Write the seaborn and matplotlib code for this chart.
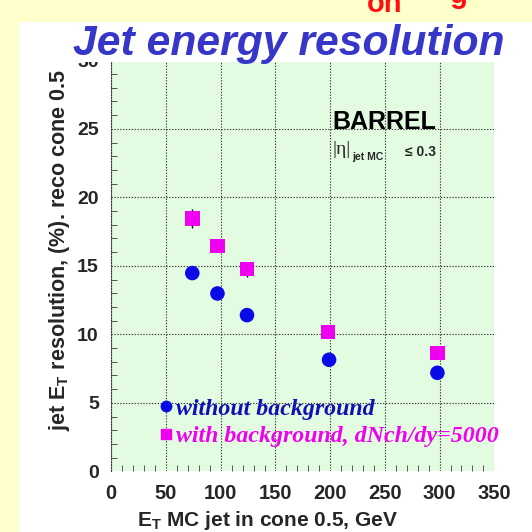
import numpy as np
import pandas as pd
import seaborn as sns
import matplotlib
matplotlib.use("Agg")
import matplotlib.pyplot as plt
from matplotlib.patches import Rectangle
from matplotlib.lines import Line2D
from matplotlib.ticker import MultipleLocator

# Jet transverse-energy bins (GeV) and resolutions (%)
et_no_bkg = [74, 97, 124, 199, 298]
res_no_bkg = [14.47, 12.98, 11.40, 8.14, 7.19]
err_no_bkg = [0.30, 0.30, 0.30, 0.25, 0.25]

et_bkg = [74, 97, 124, 198, 298]
res_bkg = [18.44, 16.46, 14.76, 10.17, 8.65]
err_bkg = [0.70, 0.35, 0.55, 0.30, 0.30]

label_no_bkg = "without background"
label_bkg = "with background, dNch/dy=5000"

x_ticks = [0, 50, 100, 150, 200, 250, 300, 350]
y_ticks = [0, 5, 10, 15, 20, 25, 30]

sns.set_style("white")
plt.rcParams["font.family"] = ["Liberation Sans", "DejaVu Sans"]
plt.rcParams["mathtext.fontset"] = "custom"
plt.rcParams["mathtext.rm"] = "Liberation Sans"
plt.rcParams["mathtext.bf"] = "Liberation Sans:bold"
plt.rcParams["mathtext.it"] = "Liberation Sans:italic"

df = pd.DataFrame({
    "et": et_no_bkg + et_bkg,
    "res": res_no_bkg + res_bkg,
    "err": err_no_bkg + err_bkg,
    "series": [label_no_bkg] * len(et_no_bkg) + [label_bkg] * len(et_bkg),
})

BLUE = "#0A0AE6"
MAGENTA = "#F000F0"
palette = {label_no_bkg: BLUE, label_bkg: MAGENTA}
markers = {label_no_bkg: "o", label_bkg: "s"}

W = H = 532
fig = plt.figure(figsize=(W / 100, H / 100), dpi=100, facecolor="white")

# slide frame: pale yellow margins on the left and top
fig.add_artist(Rectangle((0, 0), 19 / W, 1, transform=fig.transFigure,
                         facecolor="#FFFFCC", edgecolor="none", zorder=0))
fig.add_artist(Rectangle((0, 1 - 22 / H), 1, 22 / H, transform=fig.transFigure,
                         facecolor="#FFFFCC", edgecolor="none", zorder=0))

ax = fig.add_axes([111.3 / W, 1 - 471.3 / H, 383 / W, 411 / H])
ax.set_facecolor("#E3FBE0")

# error bars drawn first so the markers sit on top
for name, grp in df.groupby("series"):
    ax.errorbar(grp["et"], grp["res"], yerr=grp["err"], fmt="none",
                ecolor="black", elinewidth=1.0, capsize=0, zorder=3)

sns.scatterplot(data=df, x="et", y="res", hue="series", style="series",
                palette=palette, markers=markers, s=110, linewidth=0,
                legend=False, ax=ax, zorder=4)

ax.set_xlim(0, 350)
ax.set_ylim(0, 30)
ax.set_xticks(x_ticks)
ax.set_yticks(y_ticks)
ax.xaxis.set_minor_locator(MultipleLocator(10))
ax.yaxis.set_minor_locator(MultipleLocator(1))
ax.set_xticklabels([str(v) for v in x_ticks])
ax.set_yticklabels([str(v) for v in y_ticks])

ax.tick_params(axis="x", which="major", direction="in", length=0, pad=9,
               labelsize=14.5, bottom=True)
ax.tick_params(axis="x", which="minor", direction="in", length=4, width=0.7,
               color="#555555", bottom=True)
ax.tick_params(axis="y", which="major", direction="in", length=0, pad=9,
               labelsize=14, left=True)
ax.tick_params(axis="y", which="minor", direction="in", length=4, width=0.7,
               color="#555555", left=True)
for lab in ax.get_xticklabels() + ax.get_yticklabels():
    lab.set_fontweight("bold")

ax.grid(True, which="major", color="#3A3A3A", linestyle=(0, (1.2, 1.4)),
        linewidth=0.8)
ax.yaxis.get_major_ticks()[0].gridline.set_visible(False)
for side in ("top", "right", "bottom"):
    ax.spines[side].set_visible(False)
ax.spines["left"].set_linestyle((0, (1.2, 1.4)))
ax.spines["left"].set_color("#3A3A3A")
ax.spines["left"].set_linewidth(0.8)

ax.set_xlabel("")
ax.set_ylabel("")

# legend
handles = [
    Line2D([], [], marker="o", linestyle="none", color=BLUE, markersize=7.5),
    Line2D([], [], marker="s", linestyle="none", color=MAGENTA, markersize=7.5),
]
leg = ax.legend(handles, [label_no_bkg, label_bkg], loc="upper left",
                bbox_to_anchor=(49 / 383, (471.3 - 398) / 411),
                frameon=False, handlelength=0.45, handletextpad=0.2,
                labelspacing=0.25, borderpad=0, borderaxespad=0,
                prop={"family": "Liberation Serif", "weight": "bold",
                      "style": "italic", "size": 17.2})
for txt, col in zip(leg.get_texts(), ["#1010B4", MAGENTA]):
    txt.set_color(col)

# region annotation
fig.text(332 / W, 1 - 129.3 / H, "BARREL", fontsize=18, fontweight="bold",
         va="baseline", ha="left", color="black")
fig.text(332 / W, 1 - 154 / H, "|\u03b7|", fontsize=14,
         family="Liberation Serif", va="baseline", ha="left")
fig.text(352 / W, 1 - 160 / H, "jet MC", fontsize=7.5, fontweight="bold",
         va="baseline", ha="left")
fig.text(405 / W, 1 - 155.7 / H, "\u2264 0.3", fontsize=10, fontweight="bold",
         va="baseline", ha="left", family=["Liberation Sans", "DejaVu Sans"])

# axis titles
fig.text(60 / W, 1 - 250 / H, r"jet E$_\mathbf{T}$ resolution, (%). reco cone 0.5",
         rotation=90, ha="center", va="center", fontsize=15.5, fontweight="bold")
fig.text(267 / W, 1 - 520 / H, r"E$_\mathbf{T}$ MC jet in cone 0.5, GeV",
         ha="center", va="center", fontsize=15, fontweight="bold")

# title band on white, covering the top edge of the frame
fig.add_artist(Rectangle((19 / W, 1 - 62.5 / H), 1 - 19 / W, (62.5 - 22) / H,
                         transform=fig.transFigure, facecolor="white",
                         edgecolor="none", zorder=5))
fig.text(289 / W, 1 - 55 / H, "Jet energy resolution", fontsize=30.7,
         fontweight="bold", fontstyle="italic", color="#3636C8",
         ha="center", va="baseline", zorder=6)

# lower edge of the slide heading above, cut by the frame
fig.text(367 / W, 1 - 12 / H, "on", fontsize=21, fontweight="bold",
         color="#FF1010", ha="left", va="baseline", zorder=6)
fig.text(450 / W, 1 - 3 / H, "g", fontsize=21, fontweight="bold",
         color="#FF1010", ha="left", va="baseline", zorder=6)

fig.savefig("out.png", dpi=100, facecolor=fig.get_facecolor())
